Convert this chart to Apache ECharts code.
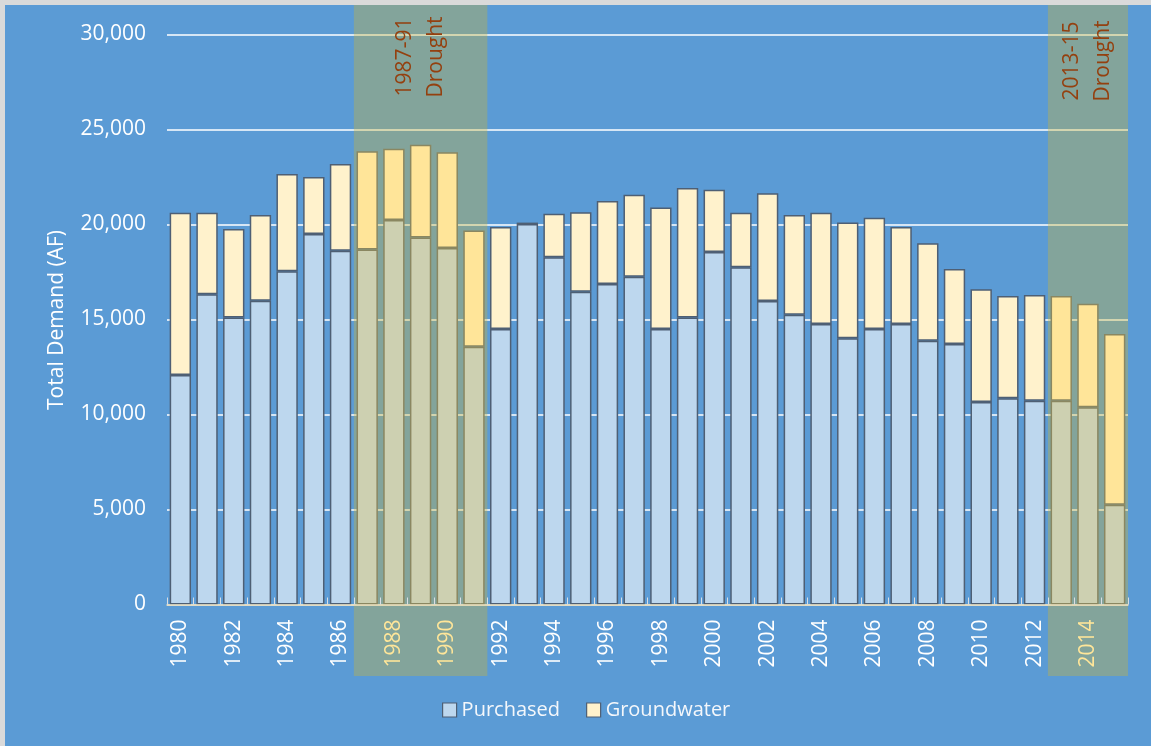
<!DOCTYPE html>
<html>
<head>
<meta charset="utf-8">
<script src="https://cdn.jsdelivr.net/npm/echarts@6/dist/echarts.min.js"></script>
<style>
html,body{margin:0;padding:0;background:#5B9BD5;}
#chart{width:1151px;height:746px;}
</style>
</head>
<body>
<div id="chart"></div>
<script>
const years = ['1980','1981','1982','1983','1984','1985','1986','1987','1988','1989',
  '1990','1991','1992','1993','1994','1995','1996','1997','1998','1999',
  '2000','2001','2002','2003','2004','2005','2006','2007','2008','2009',
  '2010','2011','2012','2013','2014','2015'];
const purchased = [12080,16330,15110,15990,17540,19500,18620,18690,20240,19310,
  18760,13570,14500,20020,18270,16460,16870,17250,14500,15110,
  18550,17750,15970,15250,14760,14010,14500,14760,13880,13710,
  10660,10850,10730,10730,10380,5250];
const groundwater = [8540,4290,4650,4510,5120,3000,4560,5160,3750,4890,
  5040,6110,5370,80,2300,4180,4370,4320,6390,6810,
  3280,2870,5670,5250,5860,6090,5860,5110,5130,3950,
  5930,5390,5560,5510,5450,8990];
const droughtFrom = ['1987','2013'];
const droughtTo = ['1991','2015'];
const droughtLabels = ['1987-91\nDrought','2013-15\nDrought'];
const yTicks = [0,5000,10000,15000,20000,25000,30000];

const FONT = 'Open Sans';
function inDrought(y){
  for (let i=0;i<droughtFrom.length;i++){
    if (+y >= +droughtFrom[i] && +y <= +droughtTo[i]) return true;
  }
  return false;
}
function items(vals, normal, dry){
  return vals.map((v,i)=>{
    const d = inDrought(years[i]);
    return {value:v, itemStyle:{color: d?dry:normal, borderColor: d?'#8A8761':'#4E5F74'}};
  });
}

const chart = echarts.init(document.getElementById('chart'), null, {renderer:'canvas'});
const option = {
  backgroundColor:'#5B9BD5',
  animation:false,
  textStyle:{fontFamily:FONT},
  grid:{left:167,right:23,top:34.5,bottom:141.5,containLabel:false},
  legend:{
    left:437, top:695, itemWidth:14, itemHeight:14, itemGap:26,
    icon:'rect',
    textStyle:{color:'#F4F7FB',fontSize:20,fontFamily:FONT},
    data:[
      {name:'Purchased', itemStyle:{color:'#BDD7EE',borderColor:'#4E5F74',borderWidth:1.2}},
      {name:'Groundwater', itemStyle:{color:'#FFF2CC',borderColor:'#4E5F74',borderWidth:1.2}}
    ]
  },
  xAxis:{
    type:'category', data:years, z:3,
    axisLine:{show:true,lineStyle:{color:'#E3D9B8',width:1.5}},
    axisTick:{show:true,inside:true,length:7,interval:0,alignWithLabel:false,lineStyle:{color:'#D9DDE3',width:1}},
    axisLabel:{
      interval:1, rotate:90, margin:15, fontSize:21, fontFamily:FONT,
      color:function(v){ return inDrought(v)?'#FFE699':'#FFFFFF'; }
    }
  },
  yAxis:{
    type:'value', min:0, max:30000, interval:5000,
    axisLine:{show:false}, axisTick:{show:false},
    axisLabel:{
      margin:21, fontSize:21, fontFamily:FONT, color:'#FFFFFF',
      formatter:function(v){ return yTicks.indexOf(v)>=0 ? v.toLocaleString('en-US') : ''; }
    },
    splitLine:{lineStyle:{color:'#FFFFFF',width:1.5}}
  },
  series:[
    {name:'Purchased', type:'bar', stack:'total', barCategoryGap:'20%',
     itemStyle:{borderWidth:1.5}, data:items(purchased,'#BDD7EE','#CDD0B1')},
    {name:'Groundwater', type:'bar', stack:'total', barCategoryGap:'20%',
     itemStyle:{borderWidth:1.5}, data:items(groundwater,'#FFF2CC','#FFE599')}
  ]
};
chart.setOption(option);

// drought shading and labels positioned via axis scale
const c0 = chart.convertToPixel({xAxisIndex:0}, years[0]);
const c1 = chart.convertToPixel({xAxisIndex:0}, years[1]);
const band = c1 - c0;
const elements = [
  {type:'rect', shape:{x:0,y:0,width:1151,height:5}, style:{fill:'#DADADA'}, z:10},
  {type:'rect', shape:{x:0,y:0,width:5,height:746}, style:{fill:'#DADADA'}, z:10},
  {type:'text', x:57, y:320, rotation:Math.PI/2,
   style:{text:'Total Demand (AF)', fill:'#FFFFFF', font:'21px "'+FONT+'"', align:'center', verticalAlign:'middle'}, z:10}
];
const labelY = [57, 61];
for (let i=0;i<droughtFrom.length;i++){
  const x0 = chart.convertToPixel({xAxisIndex:0}, droughtFrom[i]) - band/2;
  const x1 = chart.convertToPixel({xAxisIndex:0}, droughtTo[i]) + band/2;
  elements.push({type:'rect', shape:{x:x0,y:5,width:x1-x0,height:671},
    style:{fill:'rgba(205,181,50,0.35)'}, z:1, silent:true});
  elements.push({type:'text', x:(x0+x1)/2, y:labelY[i], rotation:Math.PI/2,
    style:{text:droughtLabels[i], fill:'#94400F', font:'21px "'+FONT+'"', lineHeight:31,
      align:'center', verticalAlign:'middle'}, z:10});
}
chart.setOption({graphic:{elements:elements}});
</script>
</body>
</html>
